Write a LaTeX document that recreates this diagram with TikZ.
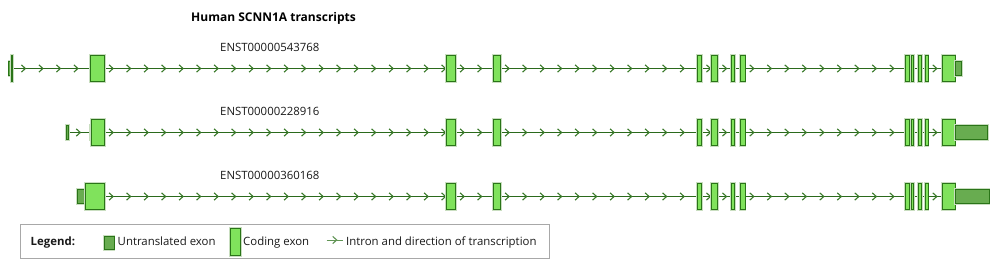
\documentclass[tikz,border=0pt]{standalone}
\usepackage{fontspec}
\setmainfont{Open Sans}
\usetikzlibrary{backgrounds}
\definecolor{codefill}{HTML}{80E25C}
\definecolor{utrfill}{HTML}{68AC50}
\definecolor{exonborder}{HTML}{2A7418}
\definecolor{exonhalo}{HTML}{C9DEC0}
\definecolor{intronline}{HTML}{2B6A1C}
\definecolor{chevcol}{HTML}{3A7A2A}
\definecolor{legendgray}{HTML}{A8A8A8}
\newcommand\exon[6]{\node[#2, minimum width=#4-#3, minimum height=#6, anchor=west] (#1) at (#3,#5) {};}
\newcommand\chevrons[4]{%
  \pgfmathtruncatemacro\nch{floor((#3-3-#2-#4)/17.5)}%
  \ifnum\nch>-1
    \foreach \k in {0,...,\nch}{%
      \pgfmathsetmacro\cx{#2+#4+17.5*\k}%
      \draw[chev] (\cx-2,#1-3.6) -- (\cx+2,#1) -- (\cx-2,#1+3.6);}%
  \fi}
\newcommand\commonintrons[1]{%
  \foreach \a/\b in {104.3/446.7,455.3/493.7,500.3/697.3,701.7/711.7,717.7/731.7,734.3/740.3,745/905.3,909.3/911.7,913.7/918.3,921.3/925,928/942.7}{\chevrons{#1}{\a}{\b}{6.8}}}
\newcommand\commonexons[2]{%
  \foreach \s/\e [count=\i] in {446.7/455.3,493.7/500.3,697.3/701.7,711.7/717.7,731.7/734.3,740.3/745,905.3/909.3,911.7/913.7,918.3/921.3,925/928,942.7/955}{\exon{#1m\i}{coding}{\s}{\e}{#2}{26.5}}}
\begin{document}
\begin{tikzpicture}[x=1pt,y=-1pt,
  coding/.style={draw=exonborder, fill=codefill, line width=1pt, inner sep=0pt, outer sep=0pt,
    preaction={draw=exonhalo, line width=2.6pt}},
  utr/.style={draw=exonborder, fill=utrfill, line width=1pt, inner sep=0pt, outer sep=0pt,
    preaction={draw=exonhalo, line width=2.6pt}},
  intron/.style={draw=intronline, line width=1pt},
  chev/.style={draw=chevcol, line width=1.1pt},
  legchev/.style={draw=chevcol!80!white, line width=1.1pt},
  lbl/.style={anchor=base west, inner sep=0pt, font=\fontsize{11.4}{13}\selectfont, text=black!90},
  ttl/.style={anchor=base west, inner sep=0pt, font=\fontsize{12}{14}\selectfont\bfseries, text=black},
  legendbox/.style={draw=legendgray, line width=1pt, fill=white, inner sep=0pt}]
\useasboundingbox (0,0) rectangle (1000,270);

% title and labels
\node[ttl] (title) at (191,21.7) {Human SCNN1A transcripts};
\node[lbl] (lab1) at (220,51.7) {ENST00000543768};
\node[lbl] (lab2) at (220,115.3) {ENST00000228916};
\node[lbl] (lab3) at (220,179.5) {ENST00000360168};

% ---- row 1 (y = 68.5)
\exon{r1u}{utr}{8.8}{11.5}{68.5}{13.5}
\exon{r1a}{coding}{11.5}{12.6}{68.5}{26.5}
\exon{r1b}{coding}{90}{104.3}{68.5}{26.5}
\commonexons{r1}{68.5}
\exon{r1z}{utr}{955}{961.7}{68.5}{13.5}
% ---- row 2 (y = 132.5)
\exon{r2u}{utr}{66.7}{68.7}{132.5}{13.5}
\exon{r2v}{utr}{90}{91.2}{132.5}{13.5}
\exon{r2b}{coding}{91.2}{104.3}{132.5}{26.5}
\commonexons{r2}{132.5}
\exon{r2z}{utr}{955}{987.7}{132.5}{13.5}
% ---- row 3 (y = 196.5)
\exon{r3u}{utr}{77}{85.7}{196.5}{13.5}
\exon{r3b}{coding}{85.7}{104.3}{196.5}{26.5}
\commonexons{r3}{196.5}
\exon{r3z}{utr}{955}{989}{196.5}{13.5}

\begin{pgfonlayer}{background}
  \fill[white] (0,0) rectangle (1000,270);
  \draw[intron] (r1a.center) -- (r1m11.west);
  \draw[intron] (r2u.center) -- (r2m11.west);
  \draw[intron] (r3b.east) -- (r3m11.west);
  \chevrons{68.5}{12.6}{90}{10.8}
  \commonintrons{68.5}
  \chevrons{132.5}{68.7}{90}{9.6}
  \commonintrons{132.5}
  \commonintrons{196.5}
\end{pgfonlayer}

% ---- legend
\node[legendbox, minimum width=529, minimum height=34, anchor=north west] (legend) at (20,224) {};
\node[lbl, font=\fontsize{11.4}{13}\selectfont\bfseries] (legtitle) at (30.5,245) {Legend:};
\node[utr, minimum width=9.7, minimum height=13.3, anchor=west] (legutr) at (104.3,242.7) {};
\node[lbl] (legutrtxt) at (117.5,245) {Untranslated exon};
\node[coding, minimum width=10.7, minimum height=27.4, anchor=west] (legcod) at (230,242) {};
\node[lbl] (legcodtxt) at (243,245) {Coding exon};
\coordinate (la) at (326.7,240);
\coordinate (lb) at (342.7,240);
\draw[intron, draw=chevcol!80!white, line width=1pt] (la) -- (lb);
\draw[legchev] (332.7,236.4) -- (336.7,240) -- (332.7,243.6);
\node[lbl] (legintxt) at (346,245) {Intron and direction of transcription};
\end{tikzpicture}
\end{document}
